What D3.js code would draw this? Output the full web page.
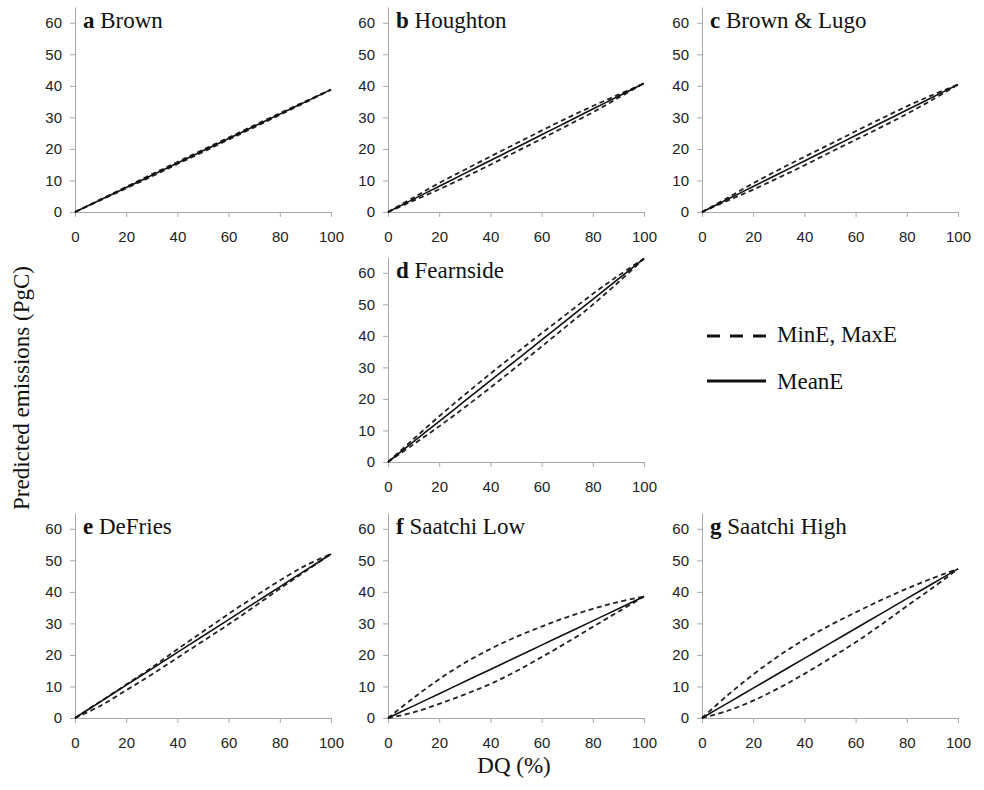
<!DOCTYPE html>
<html>
<head>
<meta charset="utf-8">
<script src="https://cdn.jsdelivr.net/npm/d3@7"></script>
<style>
  body { margin: 0; background: #fff; }
  .tick text { font-family: "Liberation Sans", Arial, sans-serif; font-size: 15px; fill: #222; }
  .domain, .tick line { stroke: #a8a8a8; }
  .serif { font-family: "Liberation Serif", "Times New Roman", serif; fill: #111; }
</style>
</head>
<body>
<div id="chart"></div>
<script>
// DQ (%) sample points shared by all panels
const dq = [0, 10, 20, 30, 40, 50, 60, 70, 80, 90, 100]

// predicted emissions (PgC)
const brownMax = [0, 4.0, 8.0, 11.95, 15.85, 19.75, 23.6, 27.45, 31.3, 35.1, 38.8]
const brownMean = [0, 3.88, 7.76, 11.64, 15.52, 19.4, 23.28, 27.16, 31.04, 34.92, 38.8]
const brownMin = [0, 3.75, 7.5, 11.3, 15.2, 19.05, 22.95, 26.85, 30.8, 34.75, 38.8]

const houghtonMax = [0, 4.6, 9.2, 13.4, 17.6, 21.7, 25.8, 29.8, 33.6, 37.2, 40.8]
const houghtonMean = [0, 4.08, 8.16, 12.24, 16.32, 20.4, 24.48, 28.56, 32.64, 36.72, 40.8]
const houghtonMin = [0, 3.6, 7.2, 11.0, 15.0, 19.1, 23.2, 27.4, 31.6, 36.2, 40.8]

const lugoMax = [0, 4.5, 9.1, 13.4, 17.5, 21.5, 25.6, 29.6, 33.5, 37.1, 40.4]
const lugoMean = [0, 4.04, 8.08, 12.12, 16.16, 20.2, 24.24, 28.28, 32.32, 36.36, 40.4]
const lugoMin = [0, 3.6, 7.1, 10.9, 14.8, 18.9, 22.9, 26.9, 31.1, 35.6, 40.4]

const fearnsideMax = [0, 7.3, 14.5, 21.35, 28.0, 34.45, 40.8, 47.05, 53.3, 59.1, 64.5]
const fearnsideMean = [0, 6.45, 12.9, 19.35, 25.8, 32.25, 38.7, 45.15, 51.6, 58.05, 64.5]
const fearnsideMin = [0, 5.6, 11.3, 17.35, 23.6, 30.05, 36.6, 43.25, 49.9, 57.0, 64.5]

const defriesMax = [0, 5.3, 10.6, 16.0, 21.8, 27.4, 33.0, 38.4, 43.6, 48.3, 52]
const defriesMean = [0, 5.2, 10.4, 15.6, 20.8, 26, 31.2, 36.4, 41.6, 46.8, 52]
const defriesMin = [0, 3.9, 8.8, 13.8, 19.1, 24.4, 29.7, 35.3, 41.0, 46.5, 52]

const saatchiLowMax = [0, 6.4, 12.3, 17.5, 21.9, 25.7, 29.0, 32.0, 34.6, 36.8, 38.5]
const saatchiLowMean = [0, 3.85, 7.7, 11.55, 15.4, 19.25, 23.1, 26.95, 30.8, 34.65, 38.5]
const saatchiLowMin = [0, 1.8, 4.5, 7.5, 10.8, 14.8, 19.3, 24.0, 28.9, 33.7, 38.5]

const saatchiHighMax = [0, 7.2, 13.8, 19.7, 24.9, 29.4, 33.5, 37.4, 41.0, 44.3, 47.3]
const saatchiHighMean = [0, 4.73, 9.46, 14.19, 18.92, 23.65, 28.38, 33.11, 37.84, 42.57, 47.3]
const saatchiHighMin = [0, 2.3, 5.5, 9.5, 14.0, 18.9, 24.0, 29.6, 35.5, 41.2, 47.3]

const panelLetters = ['a', 'b', 'c', 'd', 'e', 'f', 'g']
const panelNames = ['Brown', 'Houghton', 'Brown & Lugo', 'Fearnside', 'DeFries', 'Saatchi Low', 'Saatchi High']
const xTicks = [0, 20, 40, 60, 80, 100]
const yTicks = [0, 10, 20, 30, 40, 50, 60]
const legendLabels = ['MinE, MaxE', 'MeanE']

const panels = [
    {col: 0, row: 0, max: brownMax, mean: brownMean, min: brownMin},
    {col: 1, row: 0, max: houghtonMax, mean: houghtonMean, min: houghtonMin},
    {col: 2, row: 0, max: lugoMax, mean: lugoMean, min: lugoMin},
    {col: 1, row: 1, max: fearnsideMax, mean: fearnsideMean, min: fearnsideMin},
    {col: 0, row: 2, max: defriesMax, mean: defriesMean, min: defriesMin},
    {col: 1, row: 2, max: saatchiLowMax, mean: saatchiLowMean, min: saatchiLowMin},
    {col: 2, row: 2, max: saatchiHighMax, mean: saatchiHighMean, min: saatchiHighMin},
]

const width = 984
const height = 790
const colX = [75, 388, 702]
const rowY = [212, 462, 718]
const panelW = 256
const panelH = 205

const svg = d3.select('#chart')
    .append('svg')
    .attr('width', width)
    .attr('height', height)

panels.forEach((p, i) => {
    let x0 = colX[p.col]
    let y0 = rowY[p.row]
    let x = d3.scaleLinear().domain([0, 100]).range([x0, x0 + panelW])
    let y = d3.scaleLinear().domain([0, 65]).range([y0, y0 - panelH])

    let g = svg.append('g').attr('class', 'panel' + i)

    g.append('g')
        .attr('transform', `translate(0,${y0})`)
        .call(d3.axisBottom(x).tickValues(xTicks).tickSize(5).tickSizeOuter(0).tickPadding(14))

    g.append('g')
        .attr('transform', `translate(${x0},0)`)
        .call(d3.axisLeft(y).tickValues(yTicks).tickSize(5).tickSizeOuter(0).tickPadding(8))

    let line = d3.line()
        .x((d, k) => x(dq[k]))
        .y(d => y(d))
        .curve(d3.curveCatmullRom)

    ;[p.max, p.min].forEach(s => {
        g.append('path')
            .attr('d', line(s))
            .attr('fill', 'none')
            .attr('stroke', '#222')
            .attr('stroke-width', 1.8)
            .attr('stroke-dasharray', '5,3.5')
    })

    g.append('path')
        .attr('d', line(p.mean))
        .attr('fill', 'none')
        .attr('stroke', '#111')
        .attr('stroke-width', 1.6)

    let title = g.append('text')
        .attr('class', 'serif')
        .attr('x', x0 + 8)
        .attr('y', y0 - panelH + 21)
        .style('font-size', '23px')
    title.append('tspan').style('font-weight', 'bold').text(panelLetters[i])
    title.append('tspan').text(' ' + panelNames[i])
})

// legend
const legend = svg.append('g')
legendLabels.forEach((label, i) => {
    let ly = 336 + i * 45
    legend.append('line')
        .attr('x1', 707).attr('x2', 766)
        .attr('y1', ly).attr('y2', ly)
        .attr('stroke', '#111')
        .attr('stroke-width', 2.8)
        .attr('stroke-dasharray', i === 0 ? '13,10' : null)
    legend.append('text')
        .attr('class', 'serif')
        .attr('x', 777)
        .attr('y', ly + 6 + i * 2)
        .style('font-size', '23px')
        .text(label)
})

// axis titles
svg.append('text')
    .attr('class', 'serif')
    .attr('transform', 'translate(29,388) rotate(-90)')
    .attr('text-anchor', 'middle')
    .style('font-size', '23px')
    .text('Predicted emissions (PgC)')

svg.append('text')
    .attr('class', 'serif')
    .attr('x', 514)
    .attr('y', 773)
    .attr('text-anchor', 'middle')
    .style('font-size', '23px')
    .text('DQ (%)')
</script>
</body>
</html>
